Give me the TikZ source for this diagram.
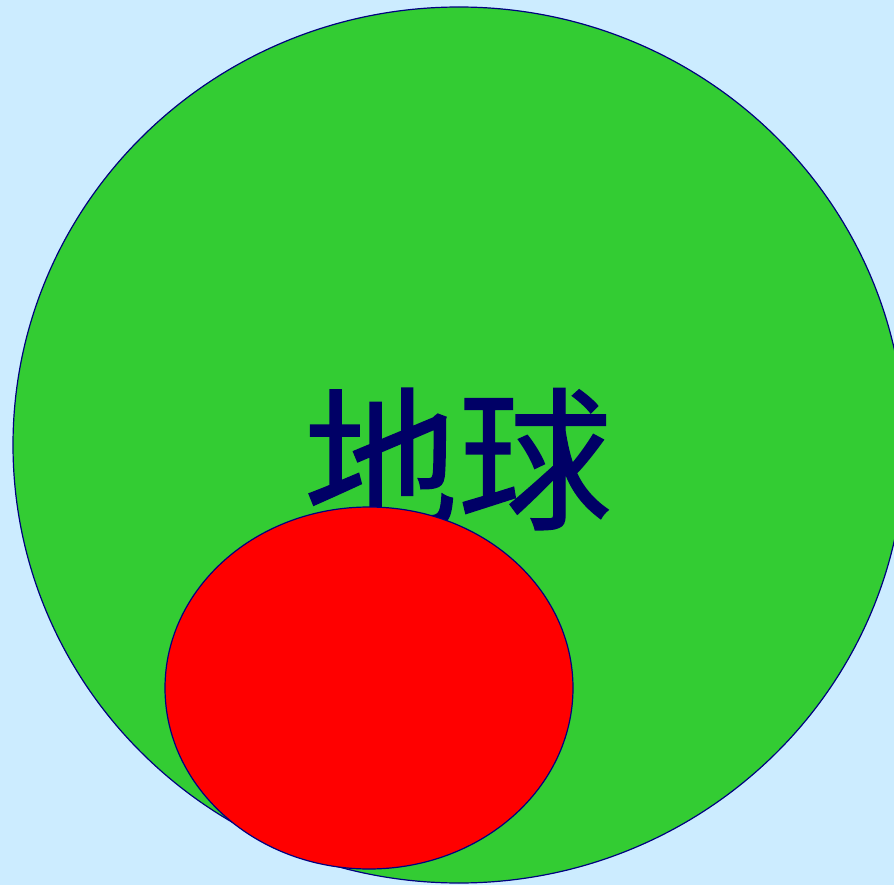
\documentclass[tikz,border=0pt]{standalone}
\usepackage{fontspec}
\newfontfamily\cjk[FakeBold=0.9]{Noto Sans CJK SC}
\definecolor{bgblue}{HTML}{CCECFF}
\definecolor{earthgreen}{HTML}{33CC33}
\definecolor{edgenavy}{HTML}{000080}
\definecolor{textnavy}{HTML}{000066}
\begin{document}
\begin{tikzpicture}[x=1pt,y=-1pt,
  shapeline/.style={draw=edgenavy,line width=1.2pt}]
\fill[bgblue] (0,0) rectangle (894,885);
\useasboundingbox (0,0) rectangle (894,885);
\begin{scope}
\clip (0,0) rectangle (894,885);
\path[shapeline,fill=earthgreen] (459,445) ellipse [x radius=446, y radius=438];
\node[text=textnavy,inner sep=0pt,anchor=center] (label) at (458,459)
  {\fontsize{154}{154}\selectfont\cjk 地球};
\path[shapeline,fill=red] (369,688) ellipse [x radius=204, y radius=181];
\end{scope}
\end{tikzpicture}
\end{document}
